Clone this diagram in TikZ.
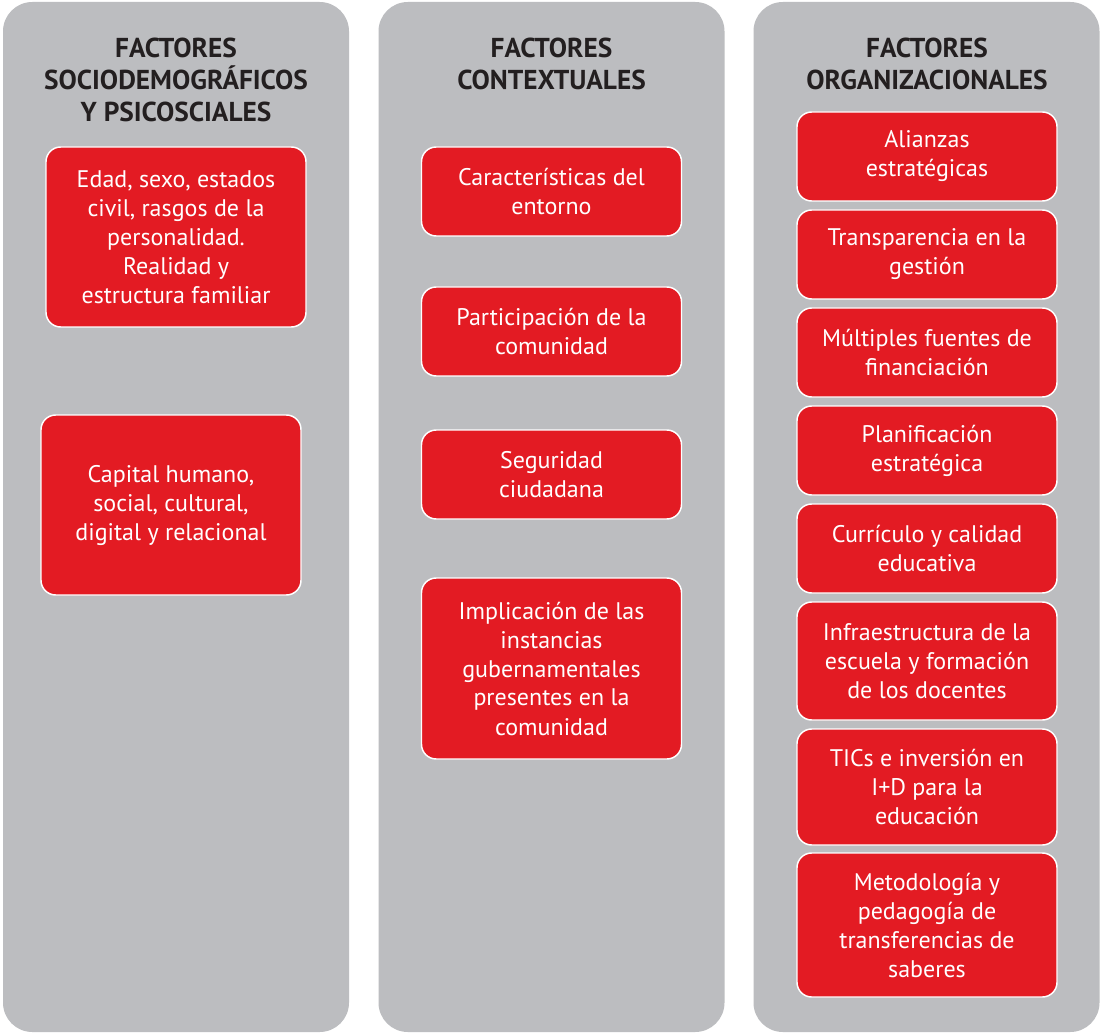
\documentclass[tikz,border=0pt]{standalone}
\usepackage{fontspec}
\setmainfont{PT Sans}
\definecolor{colgray}{HTML}{BCBDC0}
\definecolor{boxred}{HTML}{E31B23}
\definecolor{titlecol}{HTML}{231F20}
\begin{document}
\begin{tikzpicture}[x=0.75pt,y=-0.75pt,
  colbox/.style={fill=colgray,draw=none,rounded corners=22pt,minimum width=259.5pt,minimum height=772.5pt,inner sep=0pt},
  redbox/.style={fill=boxred,draw=white,line width=1.1pt,rounded corners=11pt,minimum width=195pt,inner sep=0pt,align=center,text=white,font=\fontsize{18}{21.75}\selectfont},
  ttl/.style={align=center,text=titlecol,font=\bfseries\fontsize{20.5}{24}\selectfont,inner sep=0pt}]
\useasboundingbox (0,0) rectangle (1100,1034);
\fill[white] (0,0) rectangle (1100,1034);
% columns
\node[colbox] (c1) at (176,517) {};
\node[colbox] (c2) at (551.5,517) {};
\node[colbox] (c3) at (926.5,517) {};
% titles
\node[ttl] (t1) at (176,80) {FACTORES\\SOCIODEMOGRÁFICOS\\Y PSICOSCIALES};
\node[ttl] (t2) at (551.5,64) {FACTORES\\CONTEXTUALES};
\node[ttl] (t3) at (927,64) {FACTORES\\ORGANIZACIONALES};
% column 1
\node[redbox,minimum height=135pt] (a1) at (176,237) {Edad, sexo, estados\\civil, rasgos de la\\personalidad.\\Realidad y\\estructura familiar};
\node[redbox,minimum height=135pt] (a2) at (171,505) {Capital humano,\\social, cultural,\\digital y relacional};
% column 2
\node[redbox,minimum height=66.75pt] (b1) at (551.5,191.5) {Características del\\entorno};
\node[redbox,minimum height=66.75pt] (b2) at (551.5,331.5) {Participación de la\\comunidad};
\node[redbox,minimum height=66.75pt] (b3) at (551.5,474.5) {Seguridad\\ciudadana};
\node[redbox,minimum height=135.75pt] (b4) at (551.5,668.5) {Implicación de las\\instancias\\gubernamentales\\presentes en la\\comunidad};
% column 3
\node[redbox,minimum height=66.75pt] (d1) at (927,156.5) {Alianzas\\estratégicas};
\node[redbox,minimum height=66.75pt] (d2) at (927,254.5) {Transparencia en la\\gestión};
\node[redbox,minimum height=66.75pt] (d3) at (927,352.5) {Múltiples fuentes de\\financiación};
\node[redbox,minimum height=66.75pt] (d4) at (927,450.5) {Planificación\\estratégica};
\node[redbox,minimum height=66.75pt] (d5) at (927,548.5) {Currículo y calidad\\educativa};
\node[redbox,minimum height=88.5pt] (d6) at (927,661) {Infraestructura de la\\escuela y formación\\de los docentes};
\node[redbox,minimum height=87pt] (d7) at (927,787) {TICs e inversión en\\I+D para la\\educación};
\node[redbox,minimum height=108pt] (d8) at (927,925) {Metodología y\\pedagogía de\\transferencias de\\saberes};
\end{tikzpicture}
\end{document}
